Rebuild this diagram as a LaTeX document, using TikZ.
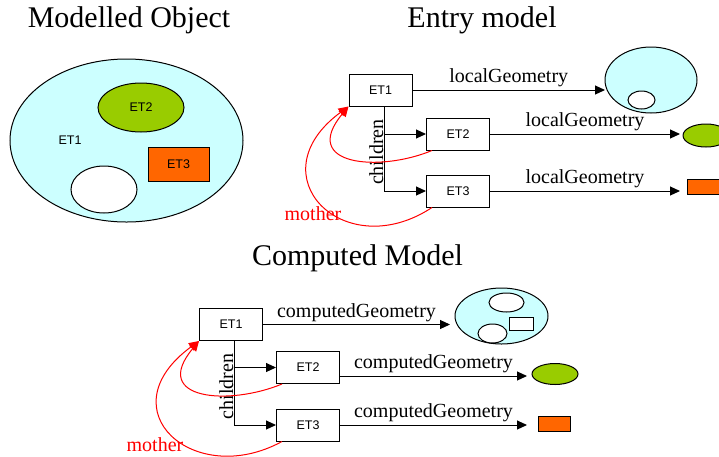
\documentclass[tikz,border=0pt]{standalone}
\usepackage{fontspec}
\setmainfont{Liberation Serif}
\setsansfont{Liberation Sans}
\usetikzlibrary{arrows.meta,positioning,shapes.geometric}

\definecolor{skyfill}{HTML}{CCFFFF}
\definecolor{leafgreen}{HTML}{99CC00}
\definecolor{brickorange}{HTML}{FF6600}

\begin{document}
\begin{tikzpicture}[
    x=1pt, y=-1pt, line width=1pt,
    heading/.style={font=\fontsize{30}{36}\selectfont},
    tag/.style={font=\fontsize{20}{24}\selectfont},
    entity/.style={rectangle, draw, fill=white, minimum width=63pt, minimum height=32pt, inner sep=0pt, font=\sffamily\fontsize{12.5}{15}\selectfont},
    geo/.style={draw, inner sep=0pt, outer sep=0pt, font=\sffamily\fontsize{12.5}{15}\selectfont},
    blob/.style={geo, ellipse},
    link/.style={-{Triangle[length=10pt,width=9pt]}},
    mother/.style={red, -{Triangle[length=10pt,width=9pt]}}
]
    \useasboundingbox (0,0) rectangle (719,456);

    % Modelled object (left)
    \node[heading] (objTitle) at (129,20) {Modelled Object};
    \node[blob, fill=skyfill, minimum width=233pt, minimum height=163pt] (world) at (126.5,140.5) {};
    \node[blob, fill=leafgreen, minimum width=86pt, minimum height=49pt] (part2) at (141,107.5) {ET2};
    \node[geo, rectangle, fill=brickorange, minimum width=61pt, minimum height=34pt] (part3) at (178.5,164) {ET3};
    \node[blob, fill=white, minimum width=66pt, minimum height=47pt] (hole) at (104,189.5) {};
    \node[geo, draw=none] (part1) at (70,140) {ET1};

    % Entry model (right)
    \node[heading] (entryTitle) at (482,20) {Entry model};
    \node[entity] (e1) at (380.5,90) {ET1};
    \node[entity] (e2) at (458,134) {ET2};
    \node[entity] (e3) at (458,191) {ET3};
    \node[blob, fill=skyfill, minimum width=92pt, minimum height=66pt] (eg1) at (651,80) {};
    \node[blob, fill=white, minimum width=27pt, minimum height=18pt] (eg1hole) at (641.5,100) {};
    \node[blob, fill=leafgreen, minimum width=46pt, minimum height=23pt] (eg2) at (706,135.5) {};
    \node[geo, rectangle, fill=brickorange, minimum width=40pt, minimum height=15pt] (eg3) at (707,186.5) {};

    \draw[link] (e1.east) -- node[tag, above, inner sep=2.5pt] {localGeometry} (e1.east -| eg1.west);
    \draw[link] (e2.east) -- node[tag, above, inner sep=2.5pt] {localGeometry} ([xshift=-3pt]e2.east -| eg2.west);
    \draw[link] (e3.east) -- node[tag, above, inner sep=2.5pt] {localGeometry} ([xshift=-7pt]e3.east -| eg3.west);

    \draw[link] ([xshift=3.5pt]e1.south) |- (e2.west);
    \draw[link] ([xshift=3.5pt]e1.south) |- node[tag, pos=0.27, rotate=90, anchor=base, inner sep=0pt, yshift=1pt] {children} (e3.west);

    \draw[mother] ([xshift=6pt]e2.south west) .. controls +(-53,22) and +(-49,59) .. (e1.south west);
    \draw[mother] ([xshift=6pt]e3.south west) .. controls +(-88,58) and +(-94,69) .. (e1.south west);
    \node[tag, red, inner sep=0pt] (eMother) at (313,214) {mother};

    % Computed model (bottom)
    \node[heading] (compTitle) at (357.5,258) {Computed Model};
    \node[entity] (c1) at (231,324.5) {ET1};
    \node[entity] (c2) at (308,367.5) {ET2};
    \node[entity] (c3) at (308,425) {ET3};
    \node[blob, fill=skyfill, minimum width=93pt, minimum height=56pt] (cg1) at (501.5,316) {};
    \node[blob, fill=white, minimum width=35pt, minimum height=19pt] (cg1a) at (506.5,302.5) {};
    \node[blob, fill=white, minimum width=29pt, minimum height=19pt] (cg1b) at (492.5,333.5) {};
    \node[geo, rectangle, fill=white, minimum width=24pt, minimum height=13pt] (cg1c) at (521,323.5) {};
    \node[blob, fill=leafgreen, minimum width=46pt, minimum height=21pt] (cg2) at (555,374) {};
    \node[geo, rectangle, fill=brickorange, minimum width=32pt, minimum height=15pt] (cg3) at (554,423.5) {};

    \draw[link] (c1.east) -- node[tag, above, inner sep=2.5pt] {computedGeometry} ([xshift=-5pt]c1.east -| cg1.west);
    \draw[link] ([yshift=-8.5pt]c2.east) -- node[tag, above, inner sep=2.5pt] {computedGeometry} ([yshift=-8.5pt,xshift=-5pt]c2.east -| cg2.west);
    \draw[link] (c3.east) -- node[tag, above, inner sep=2.5pt] {computedGeometry} ([xshift=-11pt]c3.east -| cg3.west);

    \draw[link] ([xshift=3pt]c1.south) |- (c2.west);
    \draw[link] ([xshift=3pt]c1.south) |- node[tag, pos=0.27, rotate=90, anchor=base, inner sep=0pt, yshift=1pt] {children} (c3.west);

    \draw[mother] ([xshift=6pt]c2.south west) .. controls +(-53,22) and +(-49,59) .. (c1.south west);
    \draw[mother] ([xshift=6pt]c3.south west) .. controls +(-88,48) and +(-94,69) .. (c1.south west);
    \node[tag, red, inner sep=0pt] (cMother) at (155,445) {mother};
\end{tikzpicture}
\end{document}
